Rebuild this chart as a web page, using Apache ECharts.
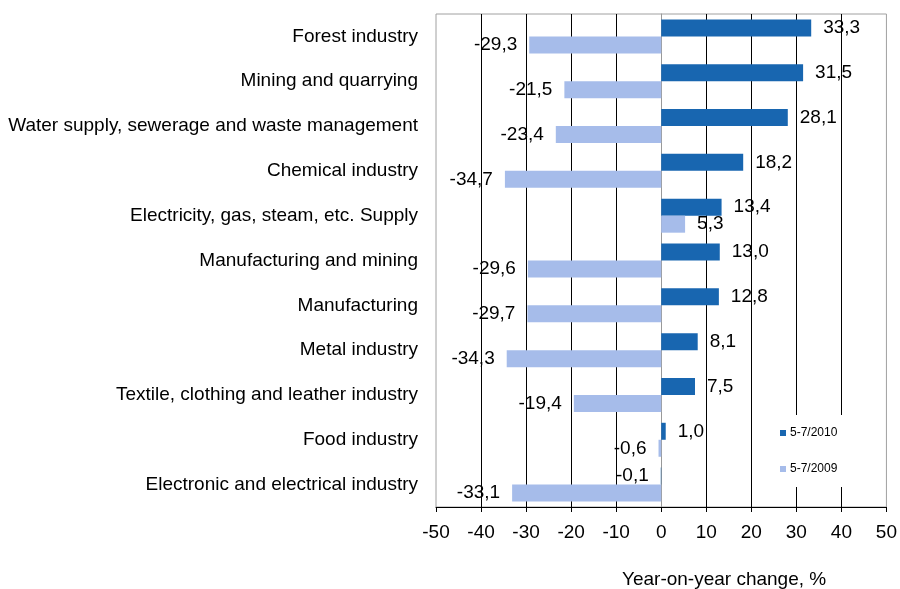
<!DOCTYPE html>
<html>
<head>
<meta charset="utf-8">
<script src="https://cdn.jsdelivr.net/npm/echarts@6/dist/echarts.min.js"></script>
<style>
  html, body { margin: 0; padding: 0; background: #fff; }
  #chart { width: 900px; height: 589px; }
</style>
</head>
<body>
<div id="chart"></div>
<script>
const categories = [
  "Forest industry",
  "Mining and quarrying",
  "Water supply, sewerage and waste management",
  "Chemical industry",
  "Electricity, gas, steam, etc. Supply",
  "Manufacturing and mining",
  "Manufacturing",
  "Metal industry",
  "Textile, clothing and leather industry",
  "Food industry",
  "Electronic and electrical industry",
];
const values2010 = [33.3, 31.5, 28.1, 18.2, 13.4, 13.0, 12.8, 8.1, 7.5, 1.0, -0.1];
const values2009 = [-29.3, -21.5, -23.4, -34.7, 5.3, -29.6, -29.7, -34.3, -19.4, -0.6, -33.1];
const seriesNames = ["5-7/2010", "5-7/2009"];

const font = "Liberation Sans, Arial, sans-serif";
const darkBlue = "#1866b0";
const lightBlue = "#a6bcea";

// label goes to the outer end of the bar, comma as decimal mark
const withLabels = (vals) =>
  vals.map((v) => ({
    value: v,
    label: { position: v < 0 ? "left" : "right" },
  }));

const fmt = (p) => p.value.toFixed(1).replace(".", ",");

const chart = echarts.init(document.getElementById("chart"), null, { renderer: "canvas" });

const barLabel = {
  show: true,
  distance: 12,
  color: "#000",
  fontFamily: font,
  fontSize: 19,
  formatter: fmt,
};

chart.setOption({
  animation: false,
  backgroundColor: "#fff",
  textStyle: { fontFamily: font },
  title: {
    text: "Year-on-year change, %",
    left: 622,
    top: 570,
    padding: 0,
    textStyle: { fontFamily: font, fontSize: 19, fontWeight: "normal", color: "#000" },
  },
  legend: {
    orient: "vertical",
    left: 752,
    top: 415,
    padding: [12, 46, 12, 28],
    itemGap: 24,
    itemWidth: 6,
    itemHeight: 6,
    icon: "rect",
    backgroundColor: "#fff",
    textStyle: { fontFamily: font, fontSize: 12, color: "#000", padding: [0, 0, 0, -1] },
    data: seriesNames,
  },
  grid: {
    left: 436,
    right: 13,
    top: 14,
    bottom: 82,
    show: true,
    borderColor: "#a0a0a0",
    borderWidth: 1,
    backgroundColor: "#fff",
  },
  xAxis: {
    type: "value",
    min: -50,
    max: 50,
    interval: 10,
    axisLine: { show: true, onZero: false, lineStyle: { color: "#000" } },
    axisTick: { show: true, length: 5, lineStyle: { color: "#000" } },
    axisLabel: { color: "#000", fontFamily: font, fontSize: 19, margin: 16 },
    splitLine: {
      show: true,
      showMinLine: false,
      showMaxLine: false,
      lineStyle: { color: "#000", width: 1 },
    },
  },
  yAxis: [
    {
      type: "category",
      inverse: true,
      data: categories,
      axisLine: { show: false, onZero: false },
      axisTick: { show: false },
      axisLabel: { color: "#000", fontFamily: font, fontSize: 19, margin: 18 },
    },
    {
      type: "category",
      inverse: true,
      data: categories,
      position: "left",
      axisLine: { show: true, onZero: true, lineStyle: { color: "#999" } },
      axisTick: { show: false },
      axisLabel: { show: false },
    },
  ],
  series: [
    {
      name: seriesNames[0],
      type: "bar",
      data: withLabels(values2010),
      barWidth: 17,
      barGap: "0%",
      itemStyle: { color: darkBlue },
      label: barLabel,
    },
    {
      name: seriesNames[1],
      type: "bar",
      data: withLabels(values2009),
      barWidth: 17,
      barGap: "0%",
      itemStyle: { color: lightBlue },
      label: barLabel,
    },
  ],
});
</script>
</body>
</html>
